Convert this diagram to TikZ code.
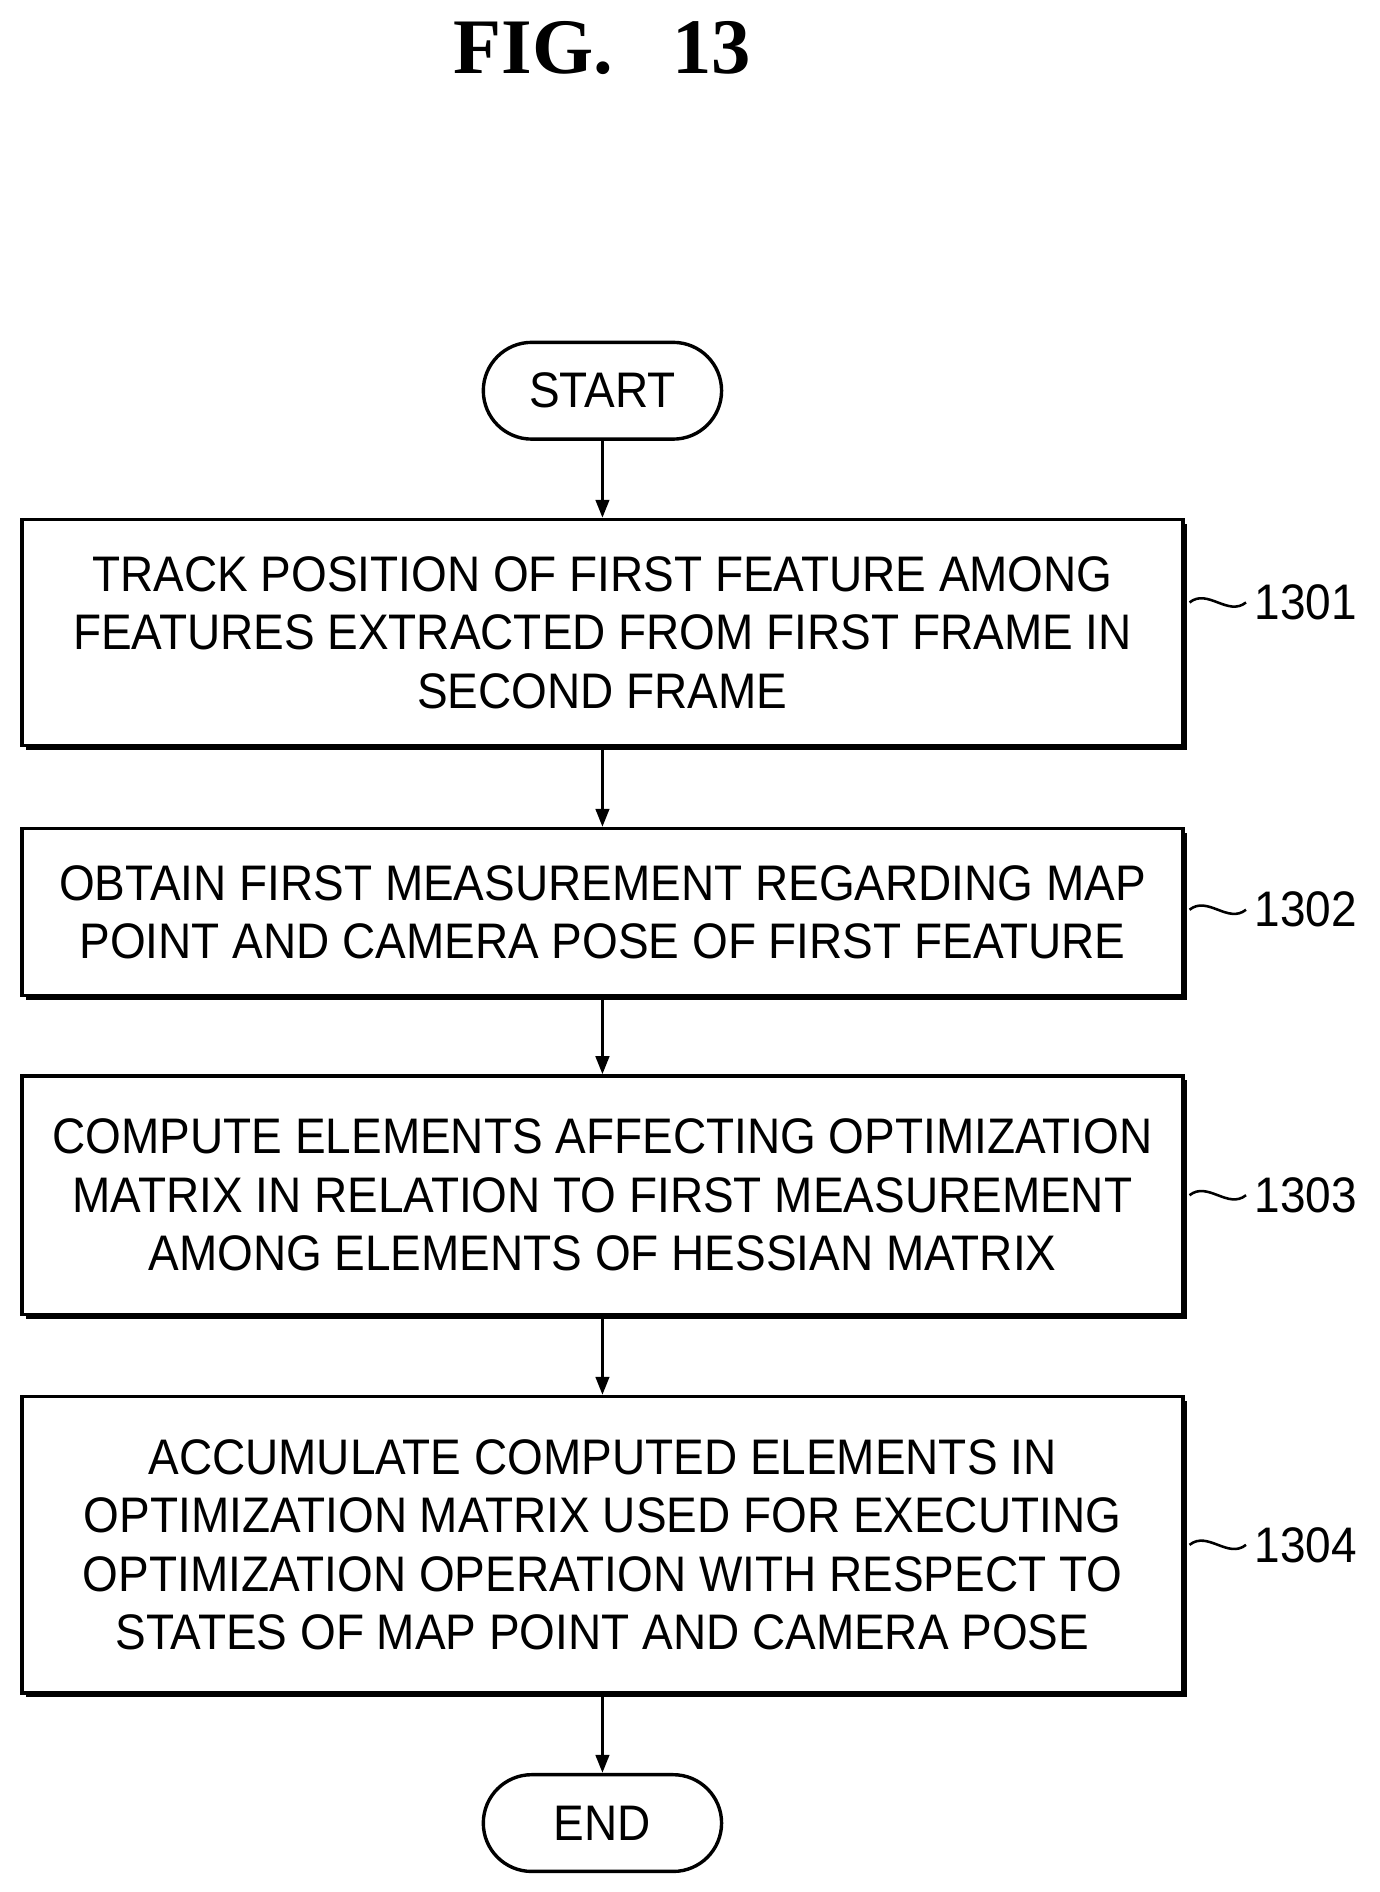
\documentclass[tikz,border=0pt]{standalone}
\usepackage{fontspec}
\setmainfont[FakeStretch=0.92]{Liberation Sans}
\newfontfamily\titlefont{Liberation Serif}
\usetikzlibrary{shadows,arrows.meta}
\begin{document}
\begin{tikzpicture}[x=0.02cm, y=-0.02cm, line width=1.6pt,
    step box/.style={draw, fill=white, minimum width=19.2cm, align=center,
      font=\fontsize{23.5}{27.5}\selectfont,
      drop shadow={shadow xshift=0.07cm, shadow yshift=-0.07cm, fill=black, opacity=1}},
    term box/.style={draw, rounded corners=0.8cm, minimum width=3.94cm, minimum height=1.6cm,
      font=\fontsize{23.5}{27.5}\selectfont},
    ref label/.style={font=\fontsize{23.5}{27.5}\selectfont, anchor=west},
    flow/.style={-{Triangle[length=0.3cm,width=0.22cm]}}]
  \useasboundingbox (0,0) rectangle (1140,1564);

  \node[font=\titlefont\bfseries\fontsize{37}{40}\selectfont] (title) at (498,40) {FIG.\ \ \ 13};

  \node[term box] (start) at (498,323) {START};
  \node[step box, minimum height=3.74cm] (s1) at (498,523) {TRACK POSITION OF FIRST FEATURE AMONG\\FEATURES EXTRACTED FROM FIRST FRAME IN\\SECOND FRAME};
  \node[step box, minimum height=2.76cm] (s2) at (498,754) {OBTAIN FIRST MEASUREMENT REGARDING MAP\\POINT AND CAMERA POSE OF FIRST FEATURE};
  \node[step box, minimum height=3.94cm] (s3) at (498,988) {COMPUTE ELEMENTS AFFECTING OPTIMIZATION\\MATRIX IN RELATION TO FIRST MEASUREMENT\\AMONG ELEMENTS OF HESSIAN MATRIX};
  \node[step box, minimum height=4.9cm] (s4) at (498,1277) {ACCUMULATE COMPUTED ELEMENTS IN\\OPTIMIZATION MATRIX USED FOR EXECUTING\\OPTIMIZATION OPERATION WITH RESPECT TO\\STATES OF MAP POINT AND CAMERA POSE};
  \node[term box] (end) at (498,1507) {END};

  \node[ref label] (l1) at (1030,498) {1301};
  \node[ref label] (l2) at (1030,752) {1302};
  \node[ref label] (l3) at (1030,988) {1303};
  \node[ref label] (l4) at (1030,1277) {1304};

  \draw[flow] (start) -- (s1);
  \draw[flow] (s1) -- (s2);
  \draw[flow] (s2) -- (s3);
  \draw[flow] (s3) -- (s4);
  \draw[flow] (s4) -- (end);

  \foreach \s/\l in {s1/l1, s2/l2, s3/l3, s4/l4}
    \draw[line width=1.2pt] (\s.east |- \l.west) ++(4,0) .. controls +(15,-12) and +(-15,12) .. (\l.west);
\end{tikzpicture}
\end{document}
